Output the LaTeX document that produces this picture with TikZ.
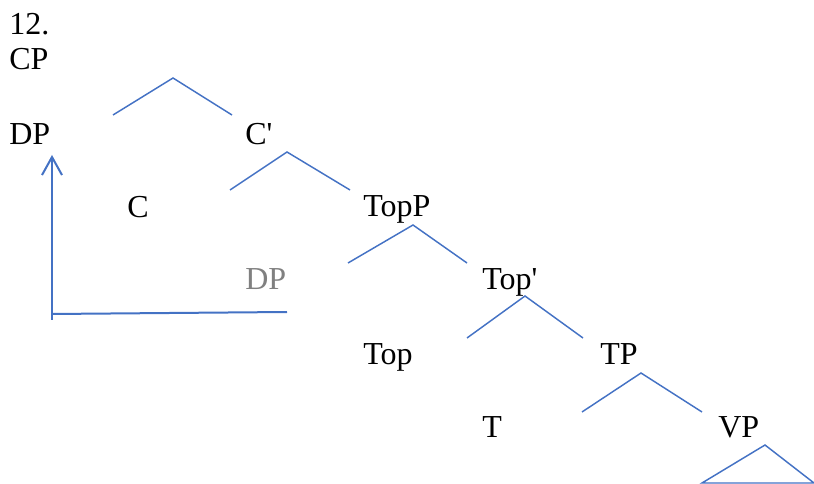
\documentclass[tikz,border=0pt]{standalone}
\usepackage{fontspec}
\setmainfont{Liberation Serif}[Ligatures=TeXOff]
\usetikzlibrary{arrows.meta}
\definecolor{branchblue}{RGB}{68,114,196}
\definecolor{tracegray}{RGB}{128,128,128}
\tikzset{
  lbl/.style={anchor=base west,inner sep=0pt,font=\fontsize{24}{28}\selectfont},
  branch/.style={draw=branchblue,line width=1.1pt},
  move/.style={draw=branchblue,line width=1.5pt}
}

\begin{document}
\begin{tikzpicture}[x=0.75pt,y=-0.75pt]
\useasboundingbox (0,0) rectangle (814,484);
% labels
\node[lbl] (num) at (9,35) {12.};
\node[lbl] (cp) at (9,70) {CP};
\node[lbl] (dp) at (9,145) {DP};
\node[lbl] (cbar) at (245,145) {C'};
\node[lbl] (c) at (127,218) {C};
\node[lbl] (topp) at (363,217) {TopP};
\node[lbl,text=tracegray] (trace) at (245,290) {DP};
\node[lbl] (topbar) at (482,290) {Top'};
\node[lbl] (top) at (363,365) {Top};
\node[lbl] (tp) at (600,365) {TP};
\node[lbl] (t) at (482,438) {T};
\node[lbl] (vp) at (718,438) {VP};
% CP branches
\coordinate (cp-a) at (173,78);
\coordinate (cp-l) at (113,115);
\coordinate (cp-r) at (232,115);
\draw[branch] (cp-l) -- (cp-a) -- (cp-r);
% C' branches
\coordinate (cbar-a) at (287,152);
\coordinate (cbar-l) at (230,190);
\coordinate (cbar-r) at (350,190);
\draw[branch] (cbar-l) -- (cbar-a) -- (cbar-r);
% TopP branches
\coordinate (topp-a) at (413,225);
\coordinate (topp-l) at (348,263);
\coordinate (topp-r) at (467,263);
\draw[branch] (topp-l) -- (topp-a) -- (topp-r);
% Top' branches
\coordinate (topbar-a) at (525,296);
\coordinate (topbar-l) at (467,338);
\coordinate (topbar-r) at (583,338);
\draw[branch] (topbar-l) -- (topbar-a) -- (topbar-r);
% TP branches
\coordinate (tp-a) at (641,373);
\coordinate (tp-l) at (582,412);
\coordinate (tp-r) at (702,412);
\draw[branch] (tp-l) -- (tp-a) -- (tp-r);
% VP triangle
\coordinate (vp-a) at (765,445);
\coordinate (vp-l) at (702,483);
\coordinate (vp-r) at (814,483);
\draw[branch] (vp-l) -- (vp-a) -- (vp-r) -- cycle;
% movement of DP
\coordinate (mv-foot) at (52,320);
\coordinate (mv-tip) at (52,155);
\coordinate (mv-corner) at (52,314);
\coordinate (mv-end) at (287,312);
\draw[move,-{Straight Barb[length=13.5pt,width=15pt]}] (mv-foot) -- (mv-tip);
\draw[move] (mv-corner) -- (mv-end);
\end{tikzpicture}
\end{document}
